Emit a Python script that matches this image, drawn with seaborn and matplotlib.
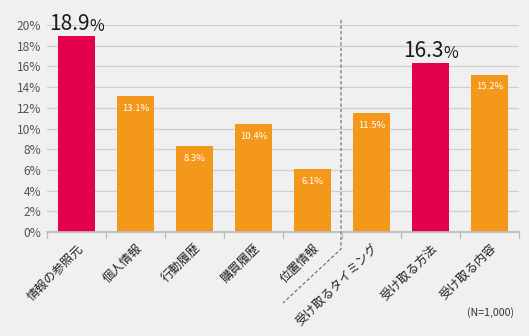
import matplotlib
matplotlib.use("Agg")
import matplotlib.pyplot as plt
import seaborn as sns
from matplotlib.lines import Line2D

# Data
categories = ["情報の参照元", "個人情報", "行動履歴", "購買履歴", "位置情報",
              "受け取るタイミング", "受け取る方法", "受け取る内容"]
values = [18.9, 13.1, 8.3, 10.4, 6.1, 11.5, 16.3, 15.2]
highlight = [True, False, False, False, False, False, True, False]
yticks = [0, 2, 4, 6, 8, 10, 12, 14, 16, 18, 20]
note = "(N=1,000)"

MAGENTA = "#E3004F"
ORANGE = "#F3981B"
BG = "#F0F0F0"

sns.set_theme(style="white")
plt.rcParams["font.family"] = ["Noto Sans CJK JP", "DejaVu Sans"]

fig = plt.figure(figsize=(5.29, 3.36), dpi=100, facecolor=BG)
W, H = 529, 336
ax = fig.add_axes([47 / W, 1 - 232 / H, 472 / W, 207 / H])
ax.set_facecolor(BG)

palette = {c: (MAGENTA if h else ORANGE) for c, h in zip(categories, highlight)}
sns.barplot(x=categories, y=values, hue=categories, palette=palette,
            legend=False, width=0.62, saturation=1, ax=ax, zorder=3,
            linewidth=0)

ax.set_ylim(0, 20)
ax.set_xlim(-0.5, len(categories) - 0.5)
ax.set_yticks(yticks)
ax.set_yticklabels([f"{v}%" for v in yticks], color="#555555", fontsize=8.6)
ax.tick_params(axis="y", length=0, pad=4)
ax.grid(axis="y", color="#CFCFCF", linewidth=0.9, zorder=0)
for s in ["top", "right", "left"]:
    ax.spines[s].set_visible(False)
ax.spines["bottom"].set_color("#BBBBBB")
ax.spines["bottom"].set_zorder(4)

# x tick labels, rotated
ax.set_xticks(range(len(categories)))
ax.set_xticklabels(categories, rotation=45, ha="right", va="top",
                   rotation_mode="anchor", fontsize=8.8, color="#222222")
ax.tick_params(axis="x", length=0, pad=7)

# tick marks at the category boundaries
for b in range(len(categories) + 1):
    ax.plot([b - 0.5, b - 0.5], [0, -0.55], color="#BBBBBB", lw=0.9,
            clip_on=False, zorder=4)

ax.set_xlabel("")
ax.set_ylabel("")

# value labels
fig.canvas.draw()
renderer = fig.canvas.get_renderer()
for i, (v, h) in enumerate(zip(values, highlight)):
    if h:
        num = ax.annotate(f"{v:.1f}", xy=(i, v), xytext=(0, 1),
                          textcoords="offset points", ha="left",
                          va="bottom", fontsize=15, color="#1A1A1A", zorder=5)
        pct = ax.annotate("%", xy=(i, v), xytext=(0, 1),
                          textcoords="offset points", ha="left",
                          va="bottom", fontsize=11.5, color="#1A1A1A", zorder=5)
        wn = num.get_window_extent(renderer).width * 72 / fig.dpi
        wp = pct.get_window_extent(renderer).width * 72 / fig.dpi
        total = wn + wp
        num.xyann = (-total / 2, 1)
        pct.xyann = (-total / 2 + wn, 1)
    else:
        ax.annotate(f"{v:.1f}%", xy=(i, v), xytext=(0, -5.5),
                    textcoords="offset points", ha="center", va="top",
                    fontsize=6.8, color="white", zorder=5)

# dashed divider between the two groups
fig.add_artist(Line2D([341 / W, 341 / W, 283 / W],
                      [1 - 20 / H, 1 - 249 / H, 1 - 303 / H],
                      color="#666666", lw=0.8, linestyle=(0, (3, 2))))

fig.text(514 / W, 1 - 313 / H, note, ha="right", va="center",
         fontsize=7.6, color="#333333")

fig.savefig("out.png", dpi=100, facecolor=BG)
